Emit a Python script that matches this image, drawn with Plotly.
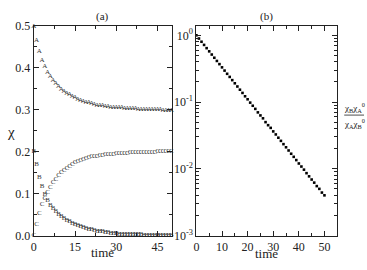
import plotly.graph_objects as go

time = list(range(51))

chi_A = [0.500, 0.465, 0.440, 0.418, 0.403, 0.390, 0.380, 0.371, 0.363, 0.356,
         0.350, 0.345, 0.340, 0.336, 0.332, 0.329, 0.326, 0.323, 0.321, 0.319,
         0.317, 0.315, 0.314, 0.312, 0.311, 0.310, 0.309, 0.308, 0.307, 0.306,
         0.306, 0.305, 0.305, 0.304, 0.304, 0.303, 0.303, 0.303, 0.302, 0.302,
         0.302, 0.302, 0.301, 0.301, 0.301, 0.301, 0.301, 0.300, 0.300, 0.300, 0.300]

chi_B = [0.200, 0.170, 0.140, 0.117, 0.098, 0.083, 0.072, 0.064, 0.057, 0.051,
         0.046, 0.041, 0.037, 0.033, 0.030, 0.027, 0.024, 0.022, 0.019, 0.017,
         0.015, 0.014, 0.012, 0.011, 0.010, 0.009, 0.008, 0.007, 0.006, 0.005,
         0.005, 0.004, 0.004, 0.003, 0.003, 0.003, 0.002, 0.002, 0.002, 0.002,
         0.001, 0.001, 0.001, 0.001, 0.001, 0.001, 0.001, 0.001, 0.001, 0.001, 0.001]

chi_C = [0.000, 0.028, 0.053, 0.074, 0.090, 0.104, 0.116, 0.126, 0.135, 0.143,
         0.150, 0.156, 0.161, 0.166, 0.170, 0.174, 0.177, 0.180, 0.182, 0.184,
         0.186, 0.188, 0.189, 0.190, 0.191, 0.192, 0.193, 0.194, 0.195, 0.195,
         0.196, 0.196, 0.197, 0.197, 0.197, 0.198, 0.198, 0.198, 0.198, 0.199,
         0.199, 0.199, 0.199, 0.199, 0.199, 0.200, 0.200, 0.200, 0.200, 0.200, 0.200]

ratio = [1.000, 0.895, 0.801, 0.718, 0.642, 0.575, 0.515, 0.461, 0.413, 0.370,
         0.331, 0.296, 0.265, 0.238, 0.213, 0.191, 0.171, 0.153, 0.137, 0.122,
         0.110, 0.098, 0.088, 0.079, 0.070, 0.063, 0.057, 0.050, 0.045, 0.041,
         0.0363, 0.0327, 0.0292, 0.0262, 0.0234, 0.0210, 0.0188, 0.0168, 0.0151, 0.0135,
         0.0120, 0.0108, 0.0097, 0.0086, 0.0077, 0.0069, 0.0062, 0.0055, 0.0050, 0.0044, 0.0040]

a_xticks = [0, 15, 30, 45]
a_yticks = [0.0, 0.1, 0.2, 0.3, 0.4, 0.5]
a_yticklabels = ["0.0", "0.1", "0.2", "0.3", "0.4", "0.5"]
b_xticks = [0, 10, 20, 30, 40, 50]
b_yticks = [0.001, 0.01, 0.1, 1]
b_yticklabels = ["10<sup>-3</sup>", "10<sup>-2</sup>", "10<sup>-1</sup>", "10<sup>0</sup>"]
b_yminor = [m * d for d in [0.001, 0.01, 0.1, 1] for m in range(2, 10)]

FONT = "Liberation Serif"
INK = "#222222"

fig = go.Figure()

for vals, letter in [(chi_A, "A"), (chi_B, "B"), (chi_C, "C")]:
    fig.add_trace(go.Scatter(
        x=time, y=vals, mode="text", text=[letter] * len(time),
        textfont=dict(family=FONT, size=7, color="#333333"),
        textposition="middle center", cliponaxis=False,
        xaxis="x", yaxis="y", showlegend=False))

fig.add_trace(go.Scatter(
    x=time, y=ratio, mode="markers",
    marker=dict(symbol="square", size=2.6, color="black"),
    xaxis="x2", yaxis="y2", showlegend=False, cliponaxis=False))

axis_common = dict(showline=True, linecolor=INK, linewidth=1, mirror="allticks",
                   ticks="inside", tickcolor=INK, showgrid=False, zeroline=False,
                   tickfont=dict(family=FONT, size=12, color=INK))

fig.update_layout(
    width=367, height=270,
    margin=dict(l=0, r=0, t=0, b=0),
    paper_bgcolor="white", plot_bgcolor="white",
    font=dict(family=FONT, color=INK),
    xaxis=dict(domain=[0.0845, 0.4646], range=[0, 50.3], tickvals=a_xticks,
               ticklen=5,
               minor=dict(ticks="inside", dtick=7.5, ticklen=3, tickcolor=INK),
               anchor="y", **axis_common),
    yaxis=dict(domain=[0.1074, 0.9259], range=[0, 0.5], tickvals=a_yticks,
               ticktext=a_yticklabels, ticklen=5,
               minor=dict(ticks="inside", dtick=0.05, ticklen=3, tickcolor=INK),
               anchor="x", **axis_common),
    xaxis2=dict(domain=[0.5313, 0.9183], range=[0, 55], tickvals=b_xticks,
                ticklen=5,
                minor=dict(ticks="inside", dtick=5, ticklen=3, tickcolor=INK),
                anchor="y2", **axis_common),
    yaxis2=dict(domain=[0.1074, 0.9259], type="log", range=[-3, 0.14],
                tickvals=b_yticks, ticktext=b_yticklabels, ticklen=5,
                minor=dict(ticks="inside", tickvals=b_yminor, ticklen=3, tickcolor=INK),
                anchor="x2", **axis_common),
    annotations=[
        dict(text="(a)", x=100, y=10, showarrow=False,
             font=dict(family=FONT, size=11, color=INK)),
        dict(text="(b)", x=266, y=10, showarrow=False,
             font=dict(family=FONT, size=11, color=INK)),
        dict(text="χ", x=8, y=132, showarrow=False,
             font=dict(family=FONT, size=15, color=INK)),
        dict(text="time", x=100, y=259, showarrow=False,
             font=dict(family=FONT, size=13, color=INK)),
        dict(text="time", x=266, y=260, showarrow=False,
             font=dict(family=FONT, size=13, color=INK)),
        dict(text="χ<sub>B</sub>χ<sub>A</sub><sup>0</sup>", x=354, y=106, showarrow=False,
             font=dict(family=FONT, size=9, color=INK)),
        dict(text="χ<sub>A</sub>χ<sub>B</sub><sup>0</sup>", x=354, y=123, showarrow=False,
             font=dict(family=FONT, size=9, color=INK)),
    ],
    shapes=[dict(type="line", x0=344, x1=364, y0=114, y1=114,
                 line=dict(color=INK, width=0.8))],
)

# convert pixel annotation positions to paper coordinates
W, H = 367, 270
for ann in fig.layout.annotations:
    ann.xref = "paper"; ann.yref = "paper"
    ann.x = ann.x / W
    ann.y = 1 - ann.y / H
    ann.xanchor = "center"; ann.yanchor = "middle"
for shp in fig.layout.shapes:
    shp.xref = "paper"; shp.yref = "paper"
    shp.x0 = shp.x0 / W; shp.x1 = shp.x1 / W
    shp.y0 = 1 - shp.y0 / H; shp.y1 = 1 - shp.y1 / H

fig.write_html("out.html", config={"displayModeBar": False, "staticPlot": True})

# remove the browser's default page margin so the figure sits at the window origin
with open("out.html", "r", encoding="utf-8") as f:
    html = f.read()
html = html.replace("<head>", "<head><style>html,body{margin:0;padding:0;overflow:hidden;}</style>", 1)
with open("out.html", "w", encoding="utf-8") as f:
    f.write(html)
